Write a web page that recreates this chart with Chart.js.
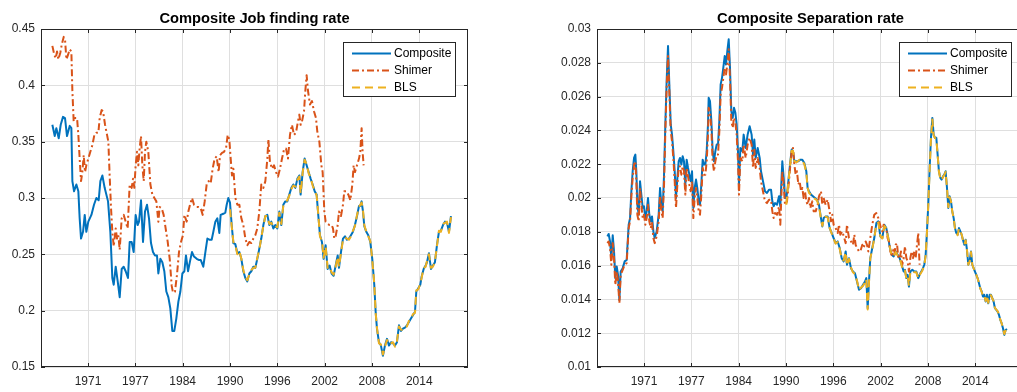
<!DOCTYPE html>
<html>
<head>
<meta charset="utf-8">
<script src="https://cdn.jsdelivr.net/npm/chart.js@4.4.0/dist/chart.umd.min.js"></script>
<style>
  html, body { margin: 0; padding: 0; background: #fff; overflow: hidden; }
  #wrap { position: relative; width: 1017px; height: 392px; overflow: hidden; }
  canvas { position: absolute; top: 0; }
  #job-chart { left: 0; }
  #sep-chart { left: 508px; }
</style>
</head>
<body>
<div id="wrap">
  <canvas id="job-chart" width="508" height="392"></canvas>
  <canvas id="sep-chart" width="520" height="392"></canvas>
</div>
<script>
// --- AXES ---
const X_MIN = 1965.17;
const X_MAX = 2020.84;
const xTickPos = [1971.3, 1977.47, 1983.64, 1989.81, 1995.98, 2002.15, 2008.32, 2014.49];
const xTickLabels = ['1971', '1977', '1984', '1990', '1996', '2002', '2008', '2014'];
const jobYTicks = [0.15, 0.2, 0.25, 0.3, 0.35, 0.4, 0.45];
const sepYTicks = [0.01, 0.012, 0.014, 0.016, 0.018, 0.02, 0.022, 0.024, 0.026, 0.028, 0.03];
const seriesNames = ['Composite', 'Shimer', 'BLS'];

// --- JOB FINDING RATE ---
const compJobYears = [1966.65, 1966.96, 1967.17, 1967.48, 1967.74, 1968.04, 1968.30, 1968.56, 1968.91, 1969.13,
  1969.26, 1969.48, 1969.78, 1970.04, 1970.21, 1970.39, 1970.65, 1970.87, 1971.08, 1971.34,
  1971.74, 1972.08, 1972.39, 1972.69, 1972.91, 1973.17, 1973.47, 1973.91, 1974.21, 1974.47,
  1974.65, 1974.91, 1975.17, 1975.43, 1975.69, 1975.95, 1976.21, 1976.51, 1976.73, 1976.99,
  1977.25, 1977.51, 1977.77, 1977.95, 1978.21, 1978.47, 1978.73, 1978.99, 1979.25, 1979.51,
  1979.77, 1980.03, 1980.29, 1980.47, 1980.73, 1980.99, 1981.25, 1981.51, 1981.77, 1982.03,
  1982.29, 1982.55, 1982.81, 1983.08, 1983.34, 1983.60, 1983.86, 1984.07, 1984.34, 1984.60,
  1984.86, 1985.12, 1985.47, 1985.73, 1985.99, 1986.33, 1986.60, 1986.86, 1987.12, 1987.42,
  1987.64, 1987.90, 1988.16, 1988.42, 1988.59, 1988.94, 1989.20, 1989.38, 1989.59, 1989.81,
  1990.03, 1990.25, 1990.51, 1990.77, 1991.03, 1991.29, 1991.55, 1991.81, 1992.07, 1992.33,
  1992.59, 1992.85, 1993.11, 1993.37, 1993.63, 1993.89, 1994.16, 1994.42, 1994.68, 1994.94,
  1995.20, 1995.46, 1995.72, 1995.98, 1996.24, 1996.50, 1996.76, 1997.02, 1997.28, 1997.54,
  1997.81, 1998.07, 1998.33, 1998.59, 1998.85, 1999.02, 1999.28, 1999.54, 1999.80, 2000.06,
  2000.33, 2000.59, 2000.85, 2001.11, 2001.28, 2001.54, 2001.80, 2002.02, 2002.28, 2002.54,
  2002.80, 2003.06, 2003.32, 2003.58, 2003.85, 2004.02, 2004.28, 2004.54, 2004.80, 2005.06,
  2005.32, 2005.58, 2005.84, 2006.10, 2006.37, 2006.63, 2006.80, 2006.97, 2007.15, 2007.32,
  2007.58, 2007.84, 2008.10, 2008.36, 2008.62, 2008.80, 2008.97, 2009.23, 2009.49, 2009.75,
  2010.01, 2010.28, 2010.54, 2010.80, 2011.06, 2011.32, 2011.58, 2011.84, 2012.10, 2012.36,
  2012.62, 2012.88, 2013.14, 2013.40, 2013.66, 2013.93, 2014.10, 2014.36, 2014.62, 2014.79,
  2015.06, 2015.32, 2015.49, 2015.75, 2016.01, 2016.27, 2016.53, 2016.79, 2017.05, 2017.31,
  2017.58, 2017.84, 2018.10, 2018.36, 2018.62];
const compJob = [0.365, 0.355, 0.362, 0.353, 0.365, 0.372, 0.371, 0.355, 0.364, 0.362,
  0.315, 0.306, 0.312, 0.306, 0.282, 0.264, 0.270, 0.285, 0.270, 0.279,
  0.285, 0.294, 0.300, 0.298, 0.315, 0.320, 0.309, 0.297, 0.270, 0.229,
  0.223, 0.239, 0.226, 0.212, 0.237, 0.239, 0.235, 0.229, 0.261, 0.261,
  0.252, 0.285, 0.276, 0.279, 0.298, 0.261, 0.288, 0.294, 0.282, 0.260,
  0.252, 0.249, 0.249, 0.233, 0.246, 0.243, 0.235, 0.217, 0.212, 0.202,
  0.182, 0.182, 0.193, 0.208, 0.217, 0.233, 0.235, 0.249, 0.235, 0.244,
  0.252, 0.248, 0.246, 0.245, 0.245, 0.239, 0.252, 0.264, 0.263, 0.263,
  0.270, 0.279, 0.282, 0.269, 0.285, 0.286, 0.287, 0.294, 0.300, 0.296,
  0.276, 0.260, 0.259, 0.251, 0.252, 0.246, 0.235, 0.229, 0.226, 0.233,
  0.235, 0.239, 0.238, 0.246, 0.255, 0.264, 0.276, 0.284, 0.285, 0.276,
  0.279, 0.273, 0.276, 0.273, 0.288, 0.276, 0.294, 0.297, 0.297, 0.303,
  0.309, 0.312, 0.309, 0.317, 0.320, 0.303, 0.323, 0.335, 0.329, 0.323,
  0.317, 0.312, 0.306, 0.303, 0.288, 0.267, 0.261, 0.246, 0.258, 0.237,
  0.240, 0.233, 0.231, 0.240, 0.249, 0.238, 0.252, 0.264, 0.266, 0.263,
  0.264, 0.267, 0.270, 0.276, 0.284, 0.293, 0.293, 0.297, 0.288, 0.275,
  0.270, 0.267, 0.261, 0.246, 0.223, 0.199, 0.184, 0.172, 0.169, 0.160,
  0.169, 0.175, 0.169, 0.172, 0.171, 0.169, 0.172, 0.187, 0.182, 0.184,
  0.185, 0.187, 0.190, 0.193, 0.196, 0.199, 0.217, 0.220, 0.223, 0.230,
  0.237, 0.240, 0.243, 0.251, 0.237, 0.240, 0.243, 0.258, 0.270, 0.271,
  0.276, 0.279, 0.278, 0.270, 0.284];

const shimerJobYears = [1966.65, 1966.91, 1967.09, 1967.26, 1967.43, 1967.69, 1967.87, 1968.13, 1968.30, 1968.48,
  1968.69, 1968.91, 1969.13, 1969.26, 1969.43, 1969.61, 1969.87, 1970.04, 1970.21, 1970.39,
  1970.56, 1970.74, 1970.91, 1971.08, 1971.34, 1971.60, 1971.87, 1972.13, 1972.39, 1972.65,
  1972.82, 1973.08, 1973.26, 1973.52, 1973.78, 1973.95, 1974.12, 1974.30, 1974.47, 1974.65,
  1974.91, 1975.08, 1975.25, 1975.43, 1975.69, 1975.95, 1976.21, 1976.47, 1976.73, 1976.99,
  1977.17, 1977.34, 1977.51, 1977.69, 1977.86, 1978.03, 1978.21, 1978.38, 1978.56, 1978.73,
  1978.90, 1979.16, 1979.43, 1979.69, 1979.95, 1980.21, 1980.47, 1980.64, 1980.90, 1981.16,
  1981.42, 1981.69, 1981.95, 1982.21, 1982.38, 1982.64, 1982.90, 1983.16, 1983.42, 1983.68,
  1983.86, 1984.16, 1984.38, 1984.60, 1984.86, 1985.12, 1985.47, 1985.73, 1985.99, 1986.25,
  1986.51, 1986.77, 1987.03, 1987.29, 1987.55, 1987.81, 1988.07, 1988.33, 1988.51, 1988.77,
  1989.03, 1989.29, 1989.51, 1989.72, 1989.90, 1990.07, 1990.25, 1990.51, 1990.77, 1991.03,
  1991.29, 1991.55, 1991.81, 1992.07, 1992.33, 1992.59, 1992.85, 1993.11, 1993.37, 1993.63,
  1993.89, 1994.16, 1994.42, 1994.68, 1994.81, 1995.02, 1995.29, 1995.55, 1995.81, 1996.07,
  1996.33, 1996.59, 1996.85, 1997.11, 1997.37, 1997.63, 1997.89, 1998.15, 1998.41, 1998.67,
  1998.85, 1999.02, 1999.20, 1999.46, 1999.63, 1999.80, 1999.98, 2000.24, 2000.50, 2000.76,
  2001.02, 2001.19, 2001.46, 2001.72, 2001.89, 2002.11, 2002.28, 2002.54, 2002.80, 2003.06,
  2003.24, 2003.41, 2003.58, 2003.85, 2004.02, 2004.28, 2004.54, 2004.71, 2004.97, 2005.24,
  2005.50, 2005.76, 2005.93, 2006.10, 2006.37, 2006.63, 2006.80, 2006.97, 2007.10, 2007.23];
const shimerJob = [0.435, 0.427, 0.424, 0.430, 0.423, 0.429, 0.436, 0.443, 0.441, 0.423,
  0.427, 0.432, 0.430, 0.395, 0.368, 0.371, 0.371, 0.356, 0.335, 0.315,
  0.323, 0.338, 0.323, 0.329, 0.335, 0.341, 0.347, 0.356, 0.358, 0.358,
  0.371, 0.378, 0.377, 0.365, 0.356, 0.350, 0.320, 0.291, 0.270, 0.257,
  0.273, 0.264, 0.267, 0.254, 0.282, 0.285, 0.279, 0.273, 0.312, 0.309,
  0.317, 0.309, 0.329, 0.341, 0.329, 0.344, 0.355, 0.329, 0.315, 0.341,
  0.350, 0.341, 0.312, 0.303, 0.300, 0.297, 0.279, 0.292, 0.291, 0.285,
  0.273, 0.261, 0.246, 0.222, 0.216, 0.217, 0.232, 0.252, 0.261, 0.267,
  0.285, 0.279, 0.288, 0.294, 0.300, 0.294, 0.292, 0.292, 0.291, 0.285,
  0.297, 0.312, 0.315, 0.313, 0.326, 0.335, 0.337, 0.323, 0.338, 0.340,
  0.341, 0.344, 0.356, 0.352, 0.335, 0.320, 0.326, 0.300, 0.294, 0.294,
  0.282, 0.276, 0.264, 0.258, 0.261, 0.260, 0.264, 0.267, 0.273, 0.288,
  0.312, 0.309, 0.315, 0.335, 0.352, 0.332, 0.326, 0.329, 0.323, 0.319,
  0.326, 0.335, 0.343, 0.344, 0.335, 0.356, 0.365, 0.356, 0.358, 0.368,
  0.374, 0.365, 0.368, 0.377, 0.395, 0.409, 0.395, 0.383, 0.386, 0.377,
  0.371, 0.359, 0.350, 0.329, 0.323, 0.288, 0.279, 0.277, 0.276, 0.276,
  0.273, 0.264, 0.266, 0.276, 0.288, 0.284, 0.294, 0.306, 0.306, 0.303,
  0.298, 0.312, 0.329, 0.323, 0.329, 0.335, 0.341, 0.362, 0.341, 0.329];

const blsJobYears = [1989.81,
  1990.03, 1990.25, 1990.51, 1990.77, 1991.03, 1991.29, 1991.55, 1991.81, 1992.07, 1992.33,
  1992.59, 1992.85, 1993.11, 1993.37, 1993.63, 1993.89, 1994.16, 1994.42, 1994.68, 1994.94,
  1995.20, 1995.46, 1995.72, 1995.98, 1996.24, 1996.50, 1996.76, 1997.02, 1997.28, 1997.54,
  1997.81, 1998.07, 1998.33, 1998.59, 1998.85, 1999.02, 1999.28, 1999.54, 1999.80, 2000.06,
  2000.33, 2000.59, 2000.85, 2001.11, 2001.28, 2001.54, 2001.80, 2002.02, 2002.28, 2002.54,
  2002.80, 2003.06, 2003.32, 2003.58, 2003.85, 2004.02, 2004.28, 2004.54, 2004.80, 2005.06,
  2005.32, 2005.58, 2005.84, 2006.10, 2006.37, 2006.63, 2006.80, 2006.97, 2007.15, 2007.32,
  2007.58, 2007.84, 2008.10, 2008.36, 2008.62, 2008.80, 2008.97, 2009.23, 2009.49, 2009.75,
  2010.01, 2010.28, 2010.54, 2010.80, 2011.06, 2011.32, 2011.58, 2011.84, 2012.10, 2012.36,
  2012.62, 2012.88, 2013.14, 2013.40, 2013.66, 2013.93, 2014.10, 2014.36, 2014.62, 2014.79,
  2015.06, 2015.32, 2015.49, 2015.75, 2016.01, 2016.27, 2016.53, 2016.79, 2017.05, 2017.31,
  2017.58, 2017.84, 2018.10, 2018.36, 2018.62];
const blsJob = [0.290,
  0.275, 0.261, 0.258, 0.250, 0.253, 0.246, 0.236, 0.230, 0.227, 0.232,
  0.236, 0.238, 0.238, 0.247, 0.254, 0.265, 0.275, 0.284, 0.284, 0.277,
  0.278, 0.274, 0.275, 0.274, 0.287, 0.277, 0.293, 0.296, 0.298, 0.302,
  0.308, 0.311, 0.310, 0.316, 0.319, 0.304, 0.322, 0.334, 0.330, 0.322,
  0.318, 0.311, 0.307, 0.302, 0.289, 0.266, 0.262, 0.247, 0.257, 0.238,
  0.239, 0.234, 0.232, 0.239, 0.248, 0.239, 0.251, 0.263, 0.265, 0.264,
  0.263, 0.266, 0.271, 0.275, 0.285, 0.292, 0.294, 0.296, 0.289, 0.276,
  0.270, 0.266, 0.262, 0.245, 0.224, 0.198, 0.185, 0.171, 0.170, 0.161,
  0.168, 0.174, 0.170, 0.171, 0.172, 0.168, 0.173, 0.186, 0.183, 0.183,
  0.186, 0.186, 0.191, 0.192, 0.197, 0.198, 0.218, 0.219, 0.224, 0.229,
  0.238, 0.239, 0.244, 0.250, 0.238, 0.239, 0.244, 0.257, 0.271, 0.270,
  0.277, 0.278, 0.279, 0.269, 0.283];

// --- SEPARATION RATE ---
const compSepYears = [1966.52, 1966.69, 1966.87, 1967.04, 1967.22, 1967.39, 1967.56, 1967.74, 1967.91, 1968.09,
  1968.26, 1968.52, 1968.78, 1969.04, 1969.30, 1969.48, 1969.65, 1969.82, 1970.00, 1970.17,
  1970.30, 1970.43, 1970.61, 1970.78, 1970.95, 1971.13, 1971.30, 1971.47, 1971.65, 1971.82,
  1971.99, 1972.17, 1972.34, 1972.52, 1972.69, 1972.95, 1973.21, 1973.39, 1973.56, 1973.73,
  1973.91, 1974.08, 1974.25, 1974.43, 1974.60, 1974.78, 1974.95, 1975.12, 1975.30, 1975.47,
  1975.65, 1975.82, 1975.99, 1976.17, 1976.34, 1976.51, 1976.69, 1976.86, 1977.04, 1977.21,
  1977.38, 1977.56, 1977.73, 1977.90, 1978.08, 1978.25, 1978.43, 1978.60, 1978.77, 1978.95,
  1979.12, 1979.30, 1979.47, 1979.64, 1979.73, 1979.90, 1980.08, 1980.25, 1980.42, 1980.60,
  1980.77, 1980.95, 1981.12, 1981.29, 1981.47, 1981.64, 1981.82, 1981.99, 1982.16, 1982.34,
  1982.51, 1982.68, 1982.86, 1983.03, 1983.21, 1983.38, 1983.55, 1983.68, 1983.86, 1984.12,
  1984.29, 1984.55, 1984.81, 1985.07, 1985.33, 1985.51, 1985.68, 1985.86, 1986.12, 1986.38,
  1986.55, 1986.81, 1987.07, 1987.33, 1987.59, 1987.86, 1988.03, 1988.20, 1988.38, 1988.64,
  1988.90, 1989.07, 1989.33, 1989.51, 1989.68, 1989.85, 1990.03, 1990.20, 1990.38, 1990.55,
  1990.72, 1990.90, 1991.16, 1991.42, 1991.68, 1991.94, 1992.20, 1992.46, 1992.63, 1992.81,
  1993.07, 1993.33, 1993.59, 1993.85, 1994.11, 1994.37, 1994.55, 1994.72, 1994.98, 1995.24,
  1995.50, 1995.76, 1996.02, 1996.28, 1996.55, 1996.81, 1997.07, 1997.33, 1997.59, 1997.76,
  1998.02, 1998.28, 1998.54, 1998.80, 1999.07, 1999.33, 1999.59, 1999.85, 2000.11, 2000.28,
  2000.46, 2000.63, 2000.80, 2001.06, 2001.32, 2001.59, 2001.85, 2002.11, 2002.37, 2002.63,
  2002.89, 2003.15, 2003.32, 2003.58, 2003.85, 2004.11, 2004.37, 2004.63, 2004.89, 2005.15,
  2005.32, 2005.50, 2005.67, 2005.84, 2006.02, 2006.28, 2006.54, 2006.80, 2007.06, 2007.32,
  2007.58, 2007.84, 2008.02, 2008.19, 2008.36, 2008.54, 2008.71, 2008.89, 2009.06, 2009.23,
  2009.41, 2009.58, 2009.75, 2009.93, 2010.10, 2010.28, 2010.45, 2010.62, 2010.80, 2010.97,
  2011.14, 2011.32, 2011.49, 2011.67, 2011.84, 2012.01, 2012.19, 2012.36, 2012.54, 2012.71,
  2012.88, 2013.06, 2013.23, 2013.40, 2013.58, 2013.75, 2013.93, 2014.10, 2014.27, 2014.45,
  2014.62, 2014.79, 2014.97, 2015.14, 2015.32, 2015.49, 2015.66, 2015.84, 2016.01, 2016.18,
  2016.36, 2016.53, 2016.71, 2016.88, 2017.05, 2017.23, 2017.40, 2017.58, 2017.75, 2017.92,
  2018.10, 2018.27, 2018.44, 2018.62];
const compSep = [0.01773, 0.01787, 0.01743, 0.01644, 0.01779, 0.01684, 0.01526, 0.01595, 0.01545, 0.01397,
  0.01565, 0.01585, 0.01625, 0.01634, 0.01842, 0.01881, 0.02040, 0.02158, 0.02237, 0.02257,
  0.02158, 0.01960, 0.01901, 0.02099, 0.02020, 0.01941, 0.01951, 0.01881, 0.01921, 0.02000,
  0.01901, 0.01862, 0.01891, 0.01802, 0.01763, 0.01802, 0.01901, 0.02059, 0.01960, 0.01921,
  0.02138, 0.02435, 0.02692, 0.02899, 0.02672, 0.02435, 0.02375, 0.02277, 0.02158, 0.02000,
  0.02119, 0.02217, 0.02237, 0.02198, 0.02247, 0.02217, 0.02079, 0.02227, 0.02178, 0.02138,
  0.02099, 0.02158, 0.01941, 0.02059, 0.02109, 0.02059, 0.01980, 0.01960, 0.02079, 0.02227,
  0.02198, 0.02198, 0.02277, 0.02435, 0.02593, 0.02573, 0.02455, 0.02277, 0.02217, 0.02277,
  0.02316, 0.02316, 0.02455, 0.02672, 0.02711, 0.02771, 0.02840, 0.02790, 0.02869, 0.02939,
  0.02771, 0.02514, 0.02474, 0.02534, 0.02504, 0.02435, 0.02277, 0.02079, 0.02296, 0.02277,
  0.02375, 0.02296, 0.02375, 0.02425, 0.02375, 0.02257, 0.02346, 0.02237, 0.02296, 0.02237,
  0.02158, 0.02099, 0.02040, 0.02030, 0.02049, 0.02049, 0.01980, 0.01951, 0.01970, 0.01960,
  0.02010, 0.01951, 0.02217, 0.02119, 0.02000, 0.02000, 0.02059, 0.02138, 0.02217, 0.02287,
  0.02277, 0.02217, 0.02217, 0.02217, 0.02227, 0.02227, 0.02207, 0.02158, 0.02059, 0.02040,
  0.02020, 0.02010, 0.02000, 0.01990, 0.01960, 0.01881, 0.01832, 0.01881, 0.01891, 0.01891,
  0.01822, 0.01793, 0.01763, 0.01733, 0.01743, 0.01704, 0.01644, 0.01625, 0.01684, 0.01605,
  0.01644, 0.01585, 0.01565, 0.01555, 0.01506, 0.01457, 0.01466, 0.01486, 0.01506, 0.01526,
  0.01348, 0.01506, 0.01644, 0.01704, 0.01763, 0.01852, 0.01862, 0.01773, 0.01763, 0.01842,
  0.01822, 0.01763, 0.01713, 0.01664, 0.01654, 0.01684, 0.01664, 0.01644, 0.01605, 0.01565,
  0.01575, 0.01526, 0.01545, 0.01476, 0.01565, 0.01575, 0.01565, 0.01565, 0.01526, 0.01555,
  0.01575, 0.01605, 0.01664, 0.01802, 0.01960, 0.02178, 0.02356, 0.02474, 0.02375, 0.02356,
  0.02356, 0.02257, 0.02158, 0.02119, 0.02109, 0.02128, 0.02138, 0.02158, 0.02059, 0.01941,
  0.02010, 0.01980, 0.01921, 0.01881, 0.01822, 0.01793, 0.01783, 0.01822, 0.01802, 0.01783,
  0.01753, 0.01723, 0.01753, 0.01694, 0.01605, 0.01625, 0.01684, 0.01605, 0.01585, 0.01565,
  0.01545, 0.01526, 0.01496, 0.01466, 0.01447, 0.01417, 0.01427, 0.01387, 0.01427, 0.01377,
  0.01427, 0.01427, 0.01407, 0.01387, 0.01348, 0.01338, 0.01328, 0.01308, 0.01279, 0.01259,
  0.01229, 0.01190, 0.01219, 0.01225];

const shimerSepYears = [1966.52, 1966.69, 1966.87, 1967.04, 1967.22, 1967.39, 1967.56, 1967.74, 1967.91, 1968.09,
  1968.26, 1968.52, 1968.78, 1969.04, 1969.30, 1969.48, 1969.65, 1969.82, 1970.00, 1970.17,
  1970.30, 1970.43, 1970.61, 1970.78, 1970.95, 1971.13, 1971.30, 1971.47, 1971.65, 1971.82,
  1971.99, 1972.17, 1972.34, 1972.52, 1972.69, 1972.95, 1973.21, 1973.39, 1973.56, 1973.73,
  1973.91, 1974.08, 1974.25, 1974.43, 1974.60, 1974.78, 1974.95, 1975.12, 1975.30, 1975.47,
  1975.65, 1975.82, 1975.99, 1976.17, 1976.34, 1976.51, 1976.69, 1976.86, 1977.04, 1977.21,
  1977.38, 1977.56, 1977.73, 1977.90, 1978.08, 1978.25, 1978.43, 1978.60, 1978.77, 1978.95,
  1979.12, 1979.30, 1979.47, 1979.64, 1979.73, 1979.90, 1980.08, 1980.25, 1980.42, 1980.60,
  1980.77, 1980.95, 1981.12, 1981.29, 1981.47, 1981.64, 1981.82, 1981.99, 1982.16, 1982.34,
  1982.51, 1982.68, 1982.86, 1983.03, 1983.21, 1983.38, 1983.55, 1983.68, 1983.86, 1984.12,
  1984.29, 1984.55, 1984.81, 1985.07, 1985.33, 1985.51, 1985.68, 1985.86, 1986.12, 1986.38,
  1986.55, 1986.81, 1987.07, 1987.33, 1987.59, 1987.86, 1988.03, 1988.20, 1988.38, 1988.64,
  1988.90, 1989.07, 1989.33, 1989.51, 1989.68, 1989.85, 1989.94, 1990.20, 1990.38, 1990.55,
  1990.72, 1990.90, 1991.07, 1991.24, 1991.42, 1991.59, 1991.77, 1991.94, 1992.11, 1992.29,
  1992.46, 1992.63, 1992.81, 1992.98, 1993.24, 1993.42, 1993.68, 1993.94, 1994.11, 1994.37,
  1994.55, 1994.72, 1994.98, 1995.24, 1995.50, 1995.68, 1995.85, 1996.02, 1996.28, 1996.55,
  1996.72, 1996.89, 1997.15, 1997.41, 1997.59, 1997.76, 1998.02, 1998.28, 1998.54, 1998.72,
  1998.89, 1999.07, 1999.33, 1999.50, 1999.76, 1999.93, 2000.20, 2000.37, 2000.54, 2000.80,
  2001.06, 2001.32, 2001.59, 2001.85, 2002.19, 2002.37, 2002.54, 2002.72, 2002.89, 2003.06,
  2003.24, 2003.41, 2003.58, 2003.76, 2003.93, 2004.11, 2004.28, 2004.45, 2004.63, 2004.80,
  2004.97, 2005.15, 2005.32, 2005.50, 2005.67, 2005.84, 2006.02, 2006.19, 2006.37, 2006.54,
  2006.71, 2006.89, 2007.06, 2007.15, 2007.23];
const shimerSep = [0.01733, 0.01743, 0.01704, 0.01605, 0.01733, 0.01644, 0.01486, 0.01565, 0.01506, 0.01377,
  0.01545, 0.01575, 0.01605, 0.01615, 0.01822, 0.01862, 0.02010, 0.02119, 0.02198, 0.02217,
  0.02099, 0.01901, 0.01862, 0.02059, 0.01960, 0.01881, 0.01901, 0.01842, 0.01881, 0.01960,
  0.01862, 0.01822, 0.01852, 0.01763, 0.01733, 0.01773, 0.01862, 0.02010, 0.01921, 0.01881,
  0.02079, 0.02395, 0.02653, 0.02840, 0.02633, 0.02395, 0.02336, 0.02237, 0.02099, 0.01941,
  0.02079, 0.02178, 0.02188, 0.02138, 0.02188, 0.02158, 0.02020, 0.02178, 0.02128, 0.02079,
  0.02040, 0.02099, 0.01881, 0.02000, 0.02059, 0.02000, 0.01921, 0.01901, 0.02020, 0.02178,
  0.02138, 0.02138, 0.02217, 0.02375, 0.02534, 0.02514, 0.02405, 0.02217, 0.02158, 0.02217,
  0.02257, 0.02257, 0.02395, 0.02613, 0.02653, 0.02712, 0.02771, 0.02731, 0.02790, 0.02880,
  0.02711, 0.02455, 0.02415, 0.02474, 0.02445, 0.02375, 0.02217, 0.02020, 0.02237, 0.02217,
  0.02316, 0.02237, 0.02316, 0.02356, 0.02316, 0.02178, 0.02286, 0.02178, 0.02237, 0.02178,
  0.02099, 0.02040, 0.01980, 0.01970, 0.01990, 0.01990, 0.01921, 0.01881, 0.01911, 0.01901,
  0.01950, 0.01842, 0.02158, 0.02079, 0.01960, 0.01970, 0.01980, 0.02099, 0.02198, 0.02277,
  0.02296, 0.02198, 0.02138, 0.02158, 0.02079, 0.02099, 0.02040, 0.02059, 0.02000, 0.02040,
  0.01980, 0.01960, 0.02000, 0.01941, 0.01980, 0.01921, 0.01921, 0.01960, 0.02010, 0.02040,
  0.01960, 0.02000, 0.01960, 0.01990, 0.01921, 0.01862, 0.01901, 0.01842, 0.01822, 0.01793,
  0.01842, 0.01783, 0.01802, 0.01763, 0.01733, 0.01842, 0.01763, 0.01743, 0.01723, 0.01783,
  0.01723, 0.01704, 0.01684, 0.01684, 0.01723, 0.01704, 0.01743, 0.01723, 0.01684, 0.01763,
  0.01842, 0.01901, 0.01911, 0.01881, 0.01822, 0.01802, 0.01842, 0.01822, 0.01822, 0.01763,
  0.01743, 0.01684, 0.01664, 0.01694, 0.01664, 0.01723, 0.01733, 0.01644, 0.01644, 0.01684,
  0.01605, 0.01644, 0.01713, 0.01644, 0.01625, 0.01565, 0.01644, 0.01684, 0.01644, 0.01684,
  0.01644, 0.01723, 0.01793, 0.01684, 0.01605];

const blsSepYears = [1989.85, 1990.03, 1990.20, 1990.38, 1990.55,
  1990.72, 1990.90, 1991.16, 1991.42, 1991.68, 1991.94, 1992.20, 1992.46, 1992.63, 1992.81,
  1993.07, 1993.33, 1993.59, 1993.85, 1994.11, 1994.37, 1994.55, 1994.72, 1994.98, 1995.24,
  1995.50, 1995.76, 1996.02, 1996.28, 1996.55, 1996.81, 1997.07, 1997.33, 1997.59, 1997.76,
  1998.02, 1998.28, 1998.54, 1998.80, 1999.07, 1999.33, 1999.59, 1999.85, 2000.11, 2000.28,
  2000.46, 2000.63, 2000.80, 2001.06, 2001.32, 2001.59, 2001.85, 2002.11, 2002.37, 2002.63,
  2002.89, 2003.15, 2003.32, 2003.58, 2003.85, 2004.11, 2004.37, 2004.63, 2004.89, 2005.15,
  2005.32, 2005.50, 2005.67, 2005.84, 2006.02, 2006.28, 2006.54, 2006.80, 2007.06, 2007.32,
  2007.58, 2007.84, 2008.02, 2008.19, 2008.36, 2008.54, 2008.71, 2008.89, 2009.06, 2009.23,
  2009.41, 2009.58, 2009.75, 2009.93, 2010.10, 2010.28, 2010.45, 2010.62, 2010.80, 2010.97,
  2011.14, 2011.32, 2011.49, 2011.67, 2011.84, 2012.01, 2012.19, 2012.36, 2012.54, 2012.71,
  2012.88, 2013.06, 2013.23, 2013.40, 2013.58, 2013.75, 2013.93, 2014.10, 2014.27, 2014.45,
  2014.62, 2014.79, 2014.97, 2015.14, 2015.32, 2015.49, 2015.66, 2015.84, 2016.01, 2016.18,
  2016.36, 2016.53, 2016.71, 2016.88, 2017.05, 2017.23, 2017.40, 2017.58, 2017.75, 2017.92,
  2018.10, 2018.27, 2018.44, 2018.62];
const blsSep = [0.01960, 0.02050, 0.02130, 0.02210, 0.02280,
  0.02280, 0.02220, 0.02210, 0.02220, 0.02230, 0.02220, 0.02200, 0.02150, 0.02060, 0.02030,
  0.02020, 0.02000, 0.01995, 0.01985, 0.01955, 0.01875, 0.01835, 0.01875, 0.01890, 0.01885,
  0.01825, 0.01790, 0.01760, 0.01730, 0.01740, 0.01700, 0.01640, 0.01630, 0.01680, 0.01600,
  0.01640, 0.01590, 0.01560, 0.01550, 0.01510, 0.01455, 0.01470, 0.01480, 0.01500, 0.01520,
  0.01340, 0.01500, 0.01640, 0.01700, 0.01760, 0.01845, 0.01855, 0.01775, 0.01760, 0.01835,
  0.01820, 0.01760, 0.01715, 0.01660, 0.01655, 0.01680, 0.01660, 0.01645, 0.01600, 0.01565,
  0.01570, 0.01525, 0.01540, 0.01480, 0.01560, 0.01570, 0.01560, 0.01560, 0.01525, 0.01550,
  0.01570, 0.01600, 0.01660, 0.01800, 0.01955, 0.02170, 0.02350, 0.02465, 0.02370, 0.02355,
  0.02350, 0.02255, 0.02155, 0.02115, 0.02105, 0.02125, 0.02135, 0.02155, 0.02060, 0.01945,
  0.02005, 0.01980, 0.01920, 0.01880, 0.01820, 0.01795, 0.01780, 0.01820, 0.01800, 0.01785,
  0.01750, 0.01725, 0.01750, 0.01695, 0.01605, 0.01625, 0.01680, 0.01605, 0.01585, 0.01565,
  0.01545, 0.01525, 0.01495, 0.01465, 0.01445, 0.01420, 0.01425, 0.01390, 0.01425, 0.01380,
  0.01425, 0.01425, 0.01405, 0.01390, 0.01350, 0.01340, 0.01330, 0.01310, 0.01280, 0.01260,
  0.01230, 0.01195, 0.01215, 0.01225];

// --- STYLE ---
const BLUE = '#0072BD';
const ORANGE = '#D95319';
const YELLOW = '#EDB120';
const AXIS_COLOR = '#262626';
const GRID_COLOR = '#dfdfdf';
const FONT_FAMILY = '"Liberation Sans", Arial, Helvetica, sans-serif';
const LINE_STYLES = [
    { color: BLUE, dash: [] },
    { color: ORANGE, dash: [7, 3, 2, 3] },
    { color: YELLOW, dash: [8, 5] }
];

function toPoints(xs, ys) {
    return xs.map((x, i) => ({ x, y: ys[i] }));
}

// box, inward ticks, title and legend drawn the way the axes look
const framePlugin = {
    id: 'frame',
    afterDraw(chart, args, opts) {
        const { ctx, chartArea: a } = chart;
        const xs = chart.scales.x, ys = chart.scales.y;
        ctx.save();
        ctx.strokeStyle = AXIS_COLOR;
        ctx.lineWidth = 1;
        ctx.setLineDash([]);
        ctx.beginPath();
        xTickPos.forEach(v => {
            const px = Math.round(xs.getPixelForValue(v)) + 0.5;
            ctx.moveTo(px, a.bottom); ctx.lineTo(px, a.bottom - 4);
            ctx.moveTo(px, a.top); ctx.lineTo(px, a.top + 4);
        });
        opts.yTicks.forEach(v => {
            const py = Math.round(ys.getPixelForValue(v)) + 0.5;
            ctx.moveTo(a.left, py); ctx.lineTo(a.left + 4, py);
            ctx.moveTo(a.right, py); ctx.lineTo(a.right - 4, py);
        });
        ctx.stroke();
        ctx.strokeRect(a.left + 0.5, a.top + 0.5, a.right - a.left - 1, a.bottom - a.top - 1);

        // title
        ctx.fillStyle = '#000';
        ctx.font = 'bold 14.7px ' + FONT_FAMILY;
        ctx.textAlign = 'center';
        ctx.textBaseline = 'middle';
        ctx.fillText(opts.title, (a.left + a.right) / 2, 18.5);

        // legend, top right inside the axes
        const w = 112, h = 54;
        const bx = a.right - 13 - w, by = a.top + 13;
        ctx.fillStyle = '#fff';
        ctx.fillRect(bx, by, w, h);
        ctx.strokeRect(bx + 0.5, by + 0.5, w, h);
        ctx.font = '12px ' + FONT_FAMILY;
        ctx.textAlign = 'left';
        seriesNames.forEach((name, i) => {
            const y = by + 11.5 + i * 17;
            ctx.strokeStyle = LINE_STYLES[i].color;
            ctx.lineWidth = 2;
            ctx.setLineDash(LINE_STYLES[i].dash);
            ctx.beginPath();
            ctx.moveTo(bx + 9, y); ctx.lineTo(bx + 48, y);
            ctx.stroke();
            ctx.fillStyle = '#000';
            ctx.fillText(name, bx + 51, y + 0.5);
        });
        ctx.restore();
    }
};

function renderPanel(canvasId, cfg) {
    const ctx = document.getElementById(canvasId).getContext('2d');
    const tickFont = { family: FONT_FAMILY, size: 12 };
    return new Chart(ctx, {
        type: 'line',
        data: {
            datasets: [
                { label: seriesNames[0], data: toPoints(cfg.compYears, cfg.comp), borderColor: BLUE, borderWidth: 2, borderDash: LINE_STYLES[0].dash, order: 3 },
                { label: seriesNames[1], data: toPoints(cfg.shimerYears, cfg.shimer), borderColor: ORANGE, borderWidth: 2, borderDash: LINE_STYLES[1].dash, order: 2 },
                { label: seriesNames[2], data: toPoints(cfg.blsYears, cfg.bls), borderColor: YELLOW, borderWidth: 2, borderDash: LINE_STYLES[2].dash, order: 1 }
            ]
        },
        options: {
            responsive: false,
            animation: false,
            events: [],
            elements: { point: { radius: 0 }, line: { tension: 0, borderJoinStyle: 'round' } },
            layout: { padding: { left: 0, right: cfg.padRight, top: 29, bottom: 0 } },
            plugins: {
                legend: { display: false },
                tooltip: { enabled: false },
                frame: { title: cfg.title, yTicks: cfg.yTicks }
            },
            scales: {
                x: {
                    type: 'linear',
                    min: X_MIN,
                    max: X_MAX,
                    afterBuildTicks: axis => { axis.ticks = xTickPos.map(v => ({ value: v })); },
                    afterFit: axis => { axis.height = 25; },
                    ticks: {
                        autoSkip: false, maxRotation: 0, padding: 7,
                        color: AXIS_COLOR, font: tickFont,
                        callback: v => xTickLabels[xTickPos.indexOf(v)]
                    },
                    grid: { color: GRID_COLOR, drawTicks: false },
                    border: { display: false }
                },
                y: {
                    type: 'linear',
                    min: cfg.yTicks[0],
                    max: cfg.yTicks[cfg.yTicks.length - 1],
                    afterBuildTicks: axis => { axis.ticks = cfg.yTicks.map(v => ({ value: v })); },
                    afterFit: axis => { axis.width = cfg.yAxisWidth; },
                    ticks: {
                        autoSkip: false, padding: 6,
                        color: AXIS_COLOR, font: tickFont,
                        callback: v => String(v)
                    },
                    grid: { color: GRID_COLOR, drawTicks: false },
                    border: { display: false }
                }
            }
        },
        plugins: [framePlugin]
    });
}

renderPanel('job-chart', {
    title: 'Composite Job finding rate',
    compYears: compJobYears, comp: compJob,
    shimerYears: shimerJobYears, shimer: shimerJob,
    blsYears: blsJobYears, bls: blsJob,
    yTicks: jobYTicks, yAxisWidth: 41, padRight: 40
});

renderPanel('sep-chart', {
    title: 'Composite Separation rate',
    compYears: compSepYears, comp: compSep,
    shimerYears: shimerSepYears, shimer: shimerSep,
    blsYears: blsSepYears, bls: blsSep,
    yTicks: sepYTicks, yAxisWidth: 89, padRight: 4
});
</script>
</body>
</html>
